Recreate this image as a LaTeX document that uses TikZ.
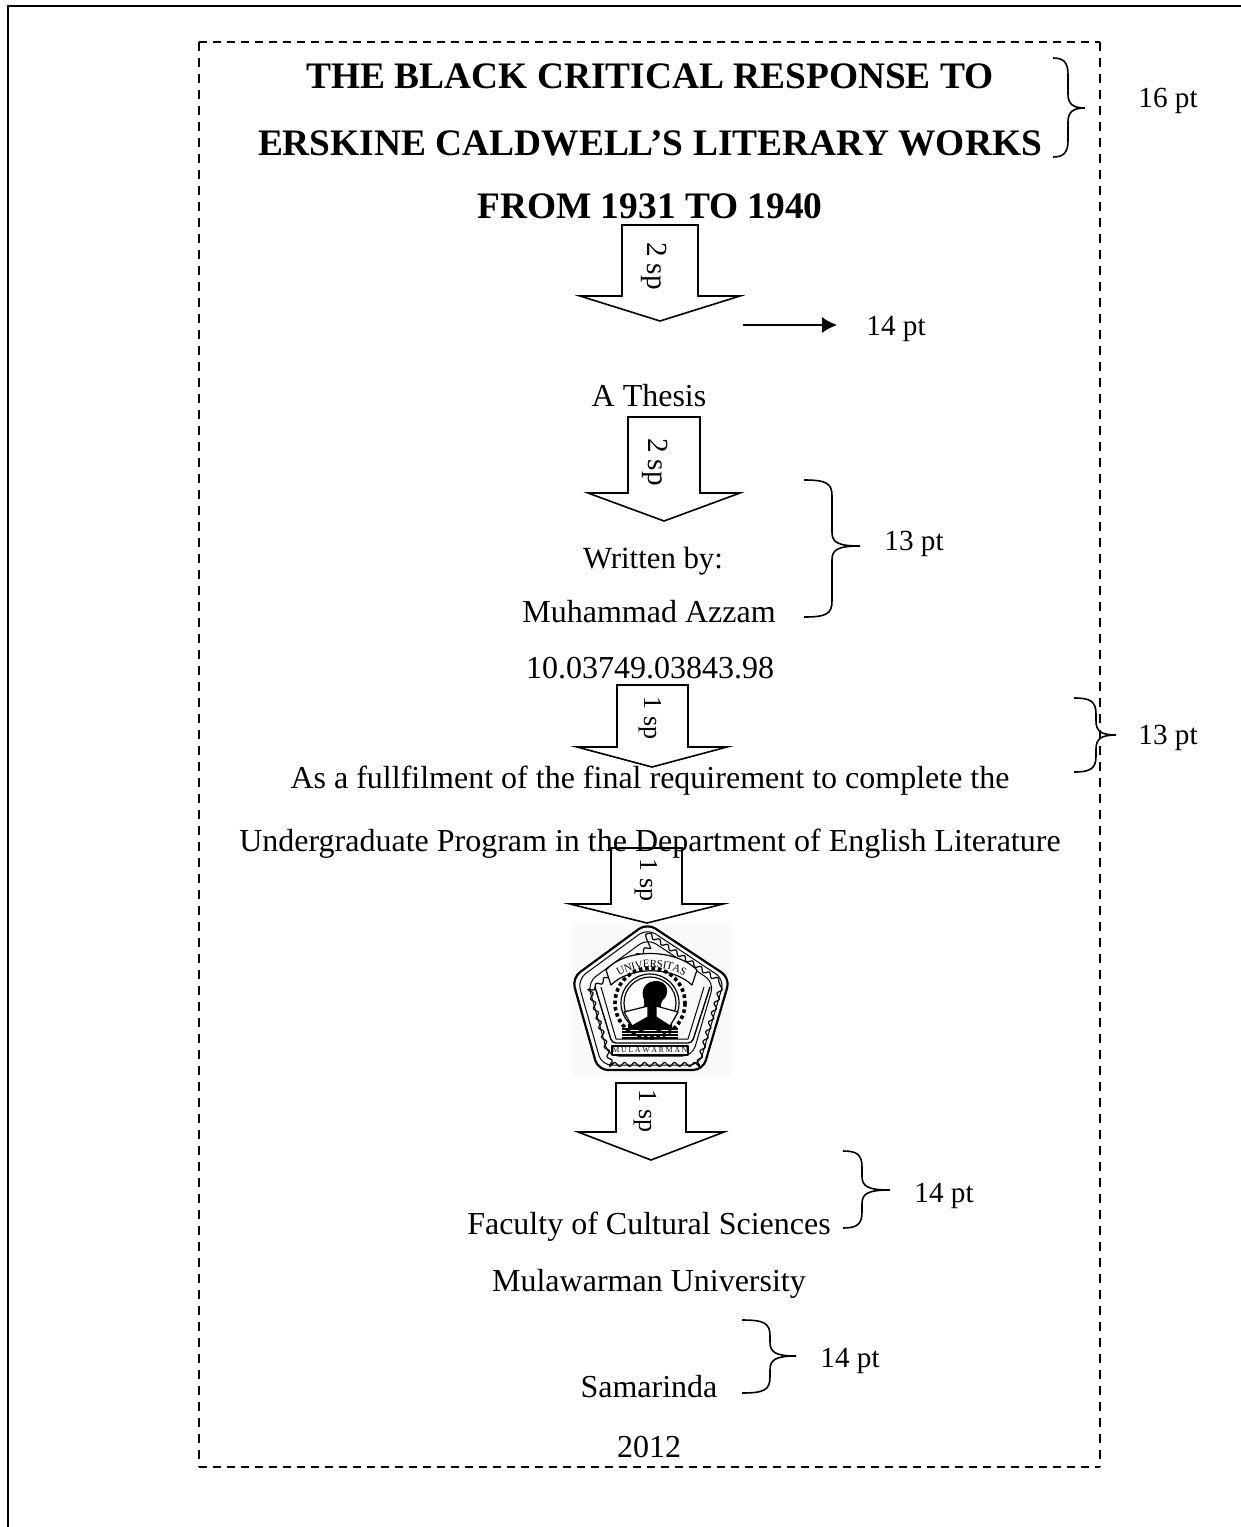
\documentclass[tikz,border=0pt]{standalone}
\usepackage{fontspec}
\setmainfont{Liberation Serif}
\usetikzlibrary{arrows.meta, decorations.text, decorations.pathmorphing}
\tikzset{
  pagetext/.style={anchor=base, inner sep=0pt, font=\fontsize{16}{18}\selectfont},
  titletext/.style={anchor=base, inner sep=0pt, font=\fontsize{18.7}{20}\selectfont\bfseries},
  smalltext/.style={anchor=base, inner sep=0pt, font=\fontsize{15.4}{17}\selectfont},
  sizetext/.style={anchor=base, inner sep=0pt, font=\fontsize{14.6}{16}\selectfont},
  sptext/.style={inner sep=0pt, rotate=-90, font=\fontsize{13}{15}\selectfont},
  blockarrow/.style={draw=black, line width=0.8pt, line join=miter},
  bracket/.style={draw=black, line width=0.8pt},
  logoline/.style={draw=black, line width=0.6pt, line join=round},
  marginh/.style={line width=0.8pt, dash pattern=on 4pt off 3pt},
  marginv/.style={line width=0.8pt, dash pattern=on 4.5pt off 3.5pt}
}
\begin{document}
\begin{tikzpicture}[x=0.5pt, y=-0.5pt]
  \useasboundingbox (0,0) rectangle (1241,1527);
  % Page edge
  \draw[line width=0.9pt] (1241,6) -- (8,6) -- (8,1527);
  % Dashed margin
  \draw[marginh] (199,42) -- (1100,42);
  \draw[marginv] (199,42) -- (199,1467);
  \draw[marginv] (1100,42) -- (1100,1467);
  \draw[marginh] (199,1467) -- (1100,1467);
  % Title
  \node[titletext] (titleone) at (650,88) {THE BLACK CRITICAL RESPONSE TO};
  \node[titletext] (titletwo) at (650,155) {ERSKINE CALDWELL’S LITERARY WORKS};
  \node[titletext] (titlethree) at (650,218) {FROM 1931 TO 1940};
  % Body lines
  \node[pagetext] (thesis) at (649,406) {A Thesis};
  \node[smalltext] (written) at (653,568) {Written by:};
  \node[pagetext] (author) at (649,622) {Muhammad Azzam};
  \node[pagetext] (number) at (650,678) {10.03749.03843.98};
  \node[pagetext] (fulfil) at (650,788) {As a fullfilment of the final requirement to complete the};
  \node[pagetext] (program) at (650,851) {Undergraduate Program in the Department of English Literature};
  \node[pagetext] (faculty) at (649,1234) {Faculty of Cultural Sciences};
  \node[pagetext] (university) at (649,1291) {Mulawarman University};
  \node[pagetext] (city) at (649,1397) {Samarinda};
  \node[pagetext] (year) at (649,1457) {2012};
  % University logo
  \fill[black!2] (572,922) rectangle (732,1076);
  \foreach \s/\w in {1/1.1, 0.93/0.5, 0.8/0.5}
    \draw[logoline, line width=\w pt, rounded corners=5pt, shift={(650,1000)}, scale=\s]
      (-3,-77) -- (80,-22) -- (53,70) -- (-52,70) -- (-78,-22) -- cycle;
  \draw[logoline, line width=0.6pt, decorate, decoration={snake, segment length=5pt, amplitude=1pt},
    shift={(650,1000)}, scale=0.865]
      (-3,-77) -- (80,-22) -- (53,70) -- (-52,70) -- (-78,-22) -- cycle;
  \draw[logoline, line width=0.7pt, rounded corners=2pt] (595,987) -- (612,1043) -- (692,1043) -- (710,987);
  \draw[logoline, line width=0.5pt] (601,987) -- (616,1039) -- (688,1039) -- (704,987);
  % Ribbon
  \draw[logoline, fill=white] (606,970) .. controls (625,948) and (675,948) .. (697,970) -- (692,985) .. controls (672,966) and (630,966) .. (611,985) -- cycle;
  \path[decorate, decoration={text along path, text align=center, raise=-2pt,
    text={|\fontsize{5.5}{6}\selectfont|UNIVERSITAS}}] (606,980) .. controls (630,958) and (672,958) .. (697,980);
  % Cog and figure
  \draw[logoline, dash pattern=on 1.8pt off 1.4pt, line width=1.8pt] (650,1003) circle (35);
  \draw[logoline, fill=white] (650,1003) circle (29);
  \draw[logoline, fill=white] (650,1003) circle (26);
  \fill[black] (655,981) .. controls (668,980) and (671,994) .. (662,1001) .. controls (658,1010) and (664,1018) .. (672,1024) -- (672,1029) -- (628,1029) -- (628,1024) .. controls (638,1018) and (646,1010) .. (644,1000) .. controls (640,990) and (645,982) .. (655,981) -- cycle;
  \draw[logoline, fill=white] (624,1012) -- (648,1006) -- (648,1017) -- (632,1026) -- cycle;
  \draw[logoline, fill=white] (678,1012) -- (656,1006) -- (656,1017) -- (670,1026) -- cycle;
  \foreach \y in {1029, 1032, 1035, 1038}
    \draw[logoline, line width=0.7pt] (622,\y) -- (678,\y);
  % Name plate
  \draw[logoline, line width=0.8pt, fill=white] (612,1046) rectangle (688,1055);
  \node[inner sep=0pt, font=\fontsize{3.8}{4}\selectfont] (logoname) at (650,1050.5) {M U L A W A R M A N};
  % Block arrows
  \foreach \xa/\xb/\xc/\xd/\xe/\ya/\yb/\yc in {
    622/698/580/740/660/225/296/321,
    628/700/588/740/664/417/493/521,
    617/688/577/727/652/685/747/767,
    611/682/570/723/647/848/904/923,
    616/686/578/724/651/1083/1132/1160}
    \draw[blockarrow] (\xa,\ya) -- (\xb,\ya) -- (\xb,\yb) -- (\xd,\yb) -- (\xe,\yc) -- (\xc,\yb) -- (\xa,\yb) -- cycle;
  \node[sptext, font=\fontsize{14.6}{16}\selectfont] (spone) at (654,266) {2 sp};
  \node[sptext, font=\fontsize{14.6}{16}\selectfont] (sptwo) at (655,462) {2 sp};
  \node[sptext] (spthree) at (650,718) {1 sp};
  \node[sptext] (spfour) at (646,880) {1 sp};
  \node[sptext] (spfive) at (645,1111) {1 sp};
  % Braces
  \foreach \xa/\xb/\xc/\ya/\ym/\yb in {
    1053/1068/1085/58/108/157,
    804/832/860/480/546/617,
    1074/1096/1116/698/735/772,
    843/862/890/1151/1190/1228,
    742/770/796/1320/1356/1393}
    \draw[bracket] (\xa,\ya) .. controls (\xb-6,\ya) and (\xb,\ya+3) .. (\xb,\ya+16)
      -- (\xb,\ym-14) .. controls (\xb,\ym-4) and (\xb+5,\ym) .. (\xc,\ym)
      .. controls (\xb+5,\ym) and (\xb,\ym+4) .. (\xb,\ym+14)
      -- (\xb,\yb-16) .. controls (\xb,\yb-3) and (\xb-6,\yb) .. (\xa,\yb);
  % Size labels
  \node[sizetext] (sizeone) at (1168,107) {16 pt};
  \coordinate (pointtail) at (743,325);
  \coordinate (pointhead) at (837,325);
  \draw[line width=0.8pt, -{Latex[length=7.5pt,width=8pt]}] (pointtail) -- (pointhead);
  \node[sizetext] (sizetwo) at (896,335) {14 pt};
  \node[sizetext] (sizethree) at (914,550) {13 pt};
  \node[sizetext] (sizefour) at (1168,744) {13 pt};
  \node[sizetext] (sizefive) at (944,1202) {14 pt};
  \node[sizetext] (sizesix) at (850,1367) {14 pt};
\end{tikzpicture}
\end{document}
